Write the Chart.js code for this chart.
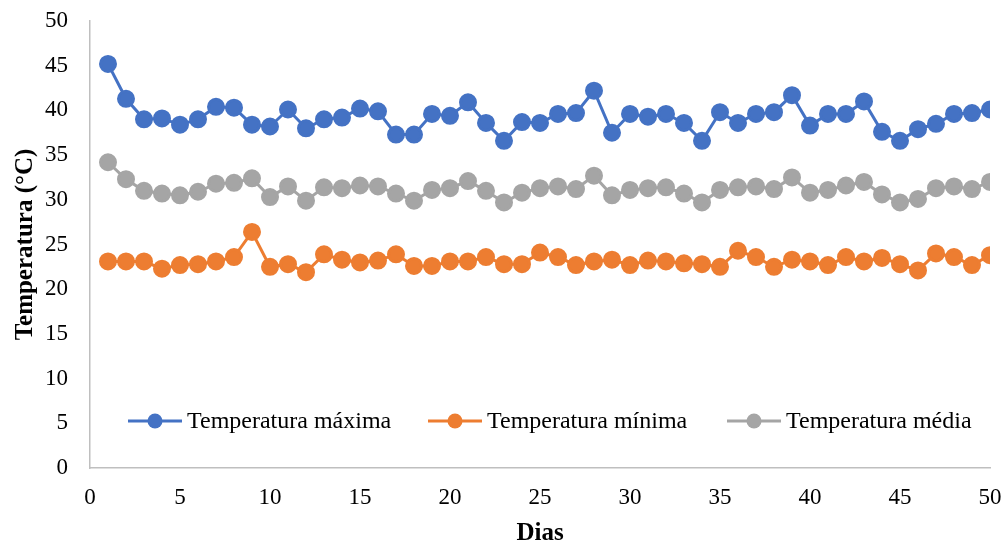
<!DOCTYPE html>
<html>
<head>
<meta charset="utf-8">
<script src="https://cdn.jsdelivr.net/npm/chart.js@4.4.1/dist/chart.umd.min.js"></script>
<style>
  body { margin: 0; background: #fff; }
  #wrap { width: 1007px; height: 544px; }
</style>
</head>
<body>
<div id="wrap"><canvas id="myChart" width="1007" height="544"></canvas></div>
<script>
// Dias 1..50
const dias = [];
for (let d = 1; d <= 50; d++) dias.push(d);

const tempMaxima = [45.2, 41.3, 39.0, 39.1, 38.4, 39.0, 40.4, 40.3, 38.4, 38.2,
                    40.1, 38.0, 39.0, 39.2, 40.2, 39.9, 37.3, 37.3, 39.6, 39.4,
                    40.9, 38.6, 36.6, 38.7, 38.6, 39.6, 39.7, 42.2, 37.5, 39.6,
                    39.3, 39.6, 38.6, 36.6, 39.8, 38.6, 39.6, 39.8, 41.7, 38.3,
                    39.6, 39.6, 41.0, 37.6, 36.6, 37.9, 38.5, 39.6, 39.7, 40.1];

const tempMinima = [23.1, 23.1, 23.1, 22.3, 22.7, 22.8, 23.1, 23.6, 26.4, 22.5,
                    22.8, 21.9, 23.9, 23.3, 23.0, 23.2, 23.9, 22.6, 22.6, 23.1,
                    23.1, 23.6, 22.8, 22.8, 24.1, 23.6, 22.7, 23.1, 23.3, 22.7,
                    23.2, 23.1, 22.9, 22.8, 22.5, 24.3, 23.6, 22.5, 23.3, 23.1,
                    22.7, 23.6, 23.1, 23.5, 22.8, 22.1, 24.0, 23.6, 22.7, 23.8];

const tempMedia = [34.2, 32.3, 31.0, 30.7, 30.5, 30.9, 31.8, 31.9, 32.4, 30.3,
                   31.5, 29.9, 31.4, 31.3, 31.6, 31.5, 30.7, 29.9, 31.1, 31.3,
                   32.1, 31.0, 29.7, 30.8, 31.3, 31.5, 31.2, 32.7, 30.5, 31.1,
                   31.3, 31.4, 30.7, 29.7, 31.1, 31.4, 31.5, 31.2, 32.5, 30.8,
                   31.1, 31.6, 32.0, 30.6, 29.7, 30.1, 31.3, 31.5, 31.2, 32.0];

const eixoTicks = [0, 5, 10, 15, 20, 25, 30, 35, 40, 45, 50];

function pontos(valores) {
    return dias.map((d, i) => ({ x: d, y: valores[i] }));
}

function serie(label, valores, cor) {
    return {
        label: label,
        data: pontos(valores),
        borderColor: cor,
        backgroundColor: cor,
        pointBackgroundColor: cor,
        pointBorderColor: cor,
        borderWidth: 3,
        pointRadius: 7.5,
        pointHoverRadius: 7.5,
        fill: false,
        tension: 0
    };
}

// legenda desenhada dentro da área do gráfico
const legendaInterna = {
    id: 'legendaInterna',
    afterDatasetsDraw(chart) {
        const ctx = chart.ctx;
        const y = 421;
        const itens = [128, 428, 727];
        ctx.save();
        ctx.font = '24px "Liberation Serif", "Times New Roman", serif';
        ctx.textBaseline = 'middle';
        chart.data.datasets.forEach((ds, i) => {
            const x0 = itens[i];
            ctx.strokeStyle = ds.borderColor;
            ctx.lineWidth = 3;
            ctx.beginPath();
            ctx.moveTo(x0, y);
            ctx.lineTo(x0 + 54, y);
            ctx.stroke();
            ctx.fillStyle = ds.borderColor;
            ctx.beginPath();
            ctx.arc(x0 + 27, y, 7.5, 0, Math.PI * 2);
            ctx.fill();
            ctx.fillStyle = '#000';
            ctx.fillText(ds.label, x0 + 59, y + 1);
        });
        ctx.restore();
    }
};

const serif = '"Liberation Serif", "Times New Roman", serif';
const fonteTicks = { family: serif, size: 23 };
const fonteTituloX = { family: serif, size: 25, weight: 'bold', lineHeight: 0.8 };
const fonteTituloY = { family: serif, size: 25, weight: 'bold', lineHeight: 0.9 };

new Chart(document.getElementById('myChart').getContext('2d'), {
    type: 'line',
    data: {
        datasets: [
            serie('Temperatura máxima', tempMaxima, '#4472C4'),
            serie('Temperatura mínima', tempMinima, '#ED7D31'),
            serie('Temperatura média', tempMedia, '#A5A5A5')
        ]
    },
    options: {
        responsive: false,
        animation: false,
        devicePixelRatio: 1,
        layout: { padding: { top: 21, right: 17, left: 4, bottom: 0 } },
        plugins: {
            legend: { display: false },
            tooltip: { enabled: false }
        },
        scales: {
            x: {
                type: 'linear',
                min: 0,
                max: 50,
                afterBuildTicks: axis => { axis.ticks = eixoTicks.map(v => ({ value: v })); },
                afterFit: axis => {
                    axis.height = 76;
                    axis.paddingLeft = 0;
                    axis.paddingRight = 0;
                },
                grid: { display: false, drawTicks: false },
                border: { display: true, color: '#BFBFBF', width: 1.5 },
                ticks: { color: '#000', font: fonteTicks, padding: 16, maxRotation: 0 },
                title: { display: true, text: 'Dias', color: '#000', font: fonteTituloX, padding: { top: 0, bottom: 0 } }
            },
            y: {
                min: 0,
                max: 50,
                afterBuildTicks: axis => { axis.ticks = eixoTicks.map(v => ({ value: v })); },
                afterFit: axis => {
                    axis.width = 86;
                    axis.paddingTop = 0;
                    axis.paddingBottom = 0;
                },
                grid: { display: false, drawTicks: false },
                border: { display: true, color: '#BFBFBF', width: 1.5 },
                ticks: { color: '#000', font: fonteTicks, padding: 22 },
                title: { display: true, text: 'Temperatura (°C)', color: '#000', font: fonteTituloY, padding: { top: 10, bottom: 2 } }
            }
        }
    },
    plugins: [legendaInterna]
});
</script>
</body>
</html>
